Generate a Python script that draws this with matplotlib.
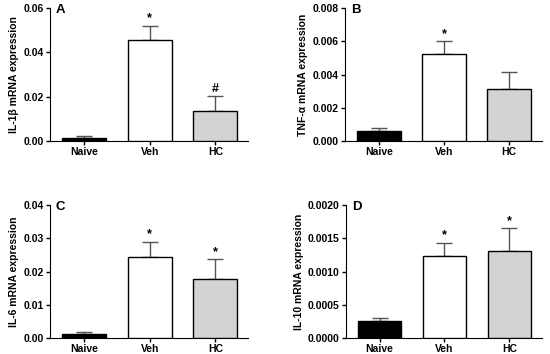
import matplotlib.pyplot as plt
import numpy as np

plt.rcParams['font.family'] = ['Liberation Sans', 'DejaVu Sans']
plt.rcParams['font.weight'] = 'bold'

groups = ['Naive', 'Veh', 'HC']
colors = ['black', 'white', '#d3d3d3']

il1b = [0.0015, 0.0455, 0.0133]
il1b_err = [0.0005, 0.0065, 0.0068]
tnfa = [0.0006, 0.00525, 0.0031]
tnfa_err = [0.00018, 0.00075, 0.00105]
il6 = [0.0013, 0.0245, 0.0178]
il6_err = [0.0005, 0.0045, 0.0059]
il10 = [0.00026, 0.00123, 0.00131]
il10_err = [0.00004, 0.0002, 0.00034]

panels = [
    ('A', 'IL-1\u03b2 mRNA expression', il1b, il1b_err, 0.06, 0.02, '%.2f', ['', '*', '#']),
    ('B', 'TNF-\u03b1 mRNA expression', tnfa, tnfa_err, 0.008, 0.002, '%.3f', ['', '*', '']),
    ('C', 'IL-6 mRNA expression', il6, il6_err, 0.04, 0.01, '%.2f', ['', '*', '*']),
    ('D', 'IL-10 mRNA expression', il10, il10_err, 0.002, 0.0005, '%.4f', ['', '*', '*']),
]
positions = [
    [0.091, 0.602, 0.360, 0.375],
    [0.627, 0.602, 0.358, 0.375],
    [0.091, 0.045, 0.360, 0.376],
    [0.629, 0.045, 0.356, 0.376],
]

fig = plt.figure(figsize=(5.5, 3.54), dpi=100)
x = np.arange(3)
for (letter, label, vals, errs, ymax, step, fmt, marks), pos in zip(panels, positions):
    ax = fig.add_axes(pos)
    ax.bar(x, vals, width=0.67, color=colors, edgecolor='black', linewidth=1, zorder=3)
    ax.errorbar(x, vals, yerr=[np.zeros(3), errs], fmt='none', ecolor='#555555',
                elinewidth=1, capsize=6, capthick=1, zorder=2)
    for xi, v, e, m in zip(x, vals, errs, marks):
        if m:
            ax.text(xi, v + e + ymax * 0.01, m, ha='center', va='bottom',
                    fontsize=9, fontweight='bold')
    ax.set_xlim(-0.52, 2.5)
    ax.set_ylim(0, ymax)
    ax.set_yticks(np.arange(0, ymax + step / 2, step))
    ax.yaxis.set_major_formatter(plt.FormatStrFormatter(fmt))
    ax.set_xticks(x)
    ax.set_xticklabels(groups)
    ax.spines['top'].set_visible(False)
    ax.spines['right'].set_visible(False)
    ax.tick_params(labelsize=7.5, length=3, width=1, pad=1.5)
    for t in ax.get_xticklabels() + ax.get_yticklabels():
        t.set_fontweight('bold')
    ax.set_ylabel(label, fontsize=7.5, fontweight='bold', labelpad=3)
    ax.text(0.03, 0.985, letter, transform=ax.transAxes, ha='left', va='center',
            fontsize=9.5, fontweight='bold')

fig.savefig('out.png', dpi=100)
